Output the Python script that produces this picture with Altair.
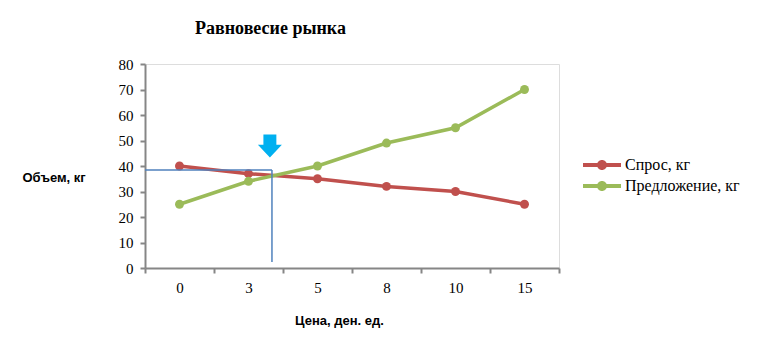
import altair as alt
import pandas as pd

prices = ["0", "3", "5", "8", "10", "15"]
demand = [40, 37, 35, 32, 30, 25]
supply = [25, 34, 40, 49, 55, 70]
series_names = ["Спрос, кг", "Предложение, кг"]
colors = ["#C0504D", "#9BBB59"]

# equilibrium marker (in index units of the price axis, and kg)
eq_pos = [1.34]
eq_qty = [38.4]
eq_floor = [2.4]
arrow_pos = [1.31]
arrow_qty = [47.6]

rows = []
for i, p in enumerate(prices):
    rows.append({"idx": i, "price": p, "series": series_names[0], "value": demand[i]})
    rows.append({"idx": i, "price": p, "series": series_names[1], "value": supply[i]})
df = pd.DataFrame(rows)

label_arr = "[" + ",".join("'" + p + "'" for p in prices) + "]"
tick_vals = [v / 2 for v in range(-1, 2 * len(prices))]

xscale = alt.Scale(domain=[-0.5, len(prices) - 0.5], nice=False, zero=False)
yscale = alt.Scale(domain=[0, 80], nice=False)

SERIF = "Liberation Serif"

x_axis = alt.Axis(
    values=tick_vals,
    labelExpr=f"datum.value % 1 === 0 ? {label_arr}[datum.value] : ''",
    tickOpacity={"condition": {"test": "datum.value % 1 === 0", "value": 0}, "value": 1},
    grid=False,
    domainColor="#868686", domainWidth=2,
    tickColor="#868686", tickWidth=2, tickSize=5,
    labelFont=SERIF, labelFontSize=15, labelColor="#000",
    labelPadding=7, labelFlush=False, labelOverlap=False, labelBound=False,
    title="Цена, ден. ед.", titleFont="Liberation Sans", titleFontSize=13,
    titleFontWeight="bold", titleColor="#000",
    titleX=194, titleY=52, titleAlign="center", titleBaseline="middle",
)
y_axis = alt.Axis(
    values=list(range(0, 81, 10)),
    grid=False,
    domainColor="#868686", domainWidth=2,
    tickColor="#868686", tickWidth=2, tickSize=5,
    labelFont=SERIF, labelFontSize=15, labelColor="#000",
    labelPadding=7, labelOverlap=False, labelFlush=False,
    title="Объем, кг", titleFont="Liberation Sans", titleFontSize=13,
    titleFontWeight="bold", titleColor="#000",
    titleAngle=0, titleX=-123, titleY=113, titleAlign="left", titleBaseline="middle",
)

legend_path = ("M-1.9,-0.2 L1.9,-0.2 L1.9,0.2 L-1.9,0.2 Z "
               "M0.5,0 A0.5,0.5 0 1,1 -0.5,0 A0.5,0.5 0 1,1 0.5,0 Z")
legend = alt.Legend(
    title=None, orient="none", legendX=447, legendY=91,
    symbolType=legend_path, symbolSize=400, symbolStrokeWidth=0,
    symbolOpacity=1,
    labelFont=SERIF, labelFontSize=16, labelColor="#000",
    labelOffset=13, rowPadding=3, padding=0,
)
color_scale = alt.Scale(domain=series_names, range=colors)
color_enc = alt.Color("series:N", scale=color_scale, sort=series_names, legend=legend)


def X(field):
    return alt.X(field, type="quantitative", scale=xscale, axis=x_axis)


def Y(field):
    return alt.Y(field, type="quantitative", scale=yscale, axis=y_axis)


base = alt.Chart(df)

lines = base.mark_line(strokeWidth=3.5).encode(
    x=X("idx"), y=Y("value"), color=color_enc, detail="series:N",
)

points = base.mark_point(filled=True, shape="circle", size=80, opacity=1).encode(
    x=X("idx"), y=Y("value"), color=color_enc,
)

eq_df = pd.DataFrame({"x": eq_pos, "y": eq_qty, "y0": eq_floor, "xstart": [-0.5]})
hline = alt.Chart(eq_df).mark_rule(color="#4F81BD", strokeWidth=1.5, clip=False).encode(
    x=X("xstart"), x2="x:Q", y=Y("y")
)
vline = alt.Chart(eq_df).mark_rule(color="#4F81BD", strokeWidth=1.5).encode(
    x=X("x"), y=Y("y"), y2="y0:Q"
)

arrow_df = pd.DataFrame({"x": arrow_pos, "y": arrow_qty})
arrow_shape = "M-0.54,-1 L0.54,-1 L0.54,-0.15 L1,-0.15 L0,0.9 L-1,-0.15 L-0.54,-0.15 Z"
arrow = alt.Chart(arrow_df).mark_point(
    shape=arrow_shape, filled=True, color="#00B0F0", size=576, opacity=1
).encode(x=X("x"), y=Y("y"))

chart = alt.layer(lines, points, hline, vline, arrow).properties(
    width=414, height=204,
    autosize=alt.AutoSizeParams(type="none"),
    padding={"left": 145, "top": 64, "right": 204, "bottom": 85},
    title=alt.TitleParams(
        "Равновесие рынка", font=SERIF, fontSize=18, fontWeight="bold",
        color="#000", anchor="start", frame="group", dx=50, baseline="middle", offset=10,
    ),
).configure_view(stroke=None).configure(background="white").configure_legend(
    labelFont=SERIF, labelFontSize=16
)

chart.save("out.html", embed_options={"renderer": "svg", "actions": False})
